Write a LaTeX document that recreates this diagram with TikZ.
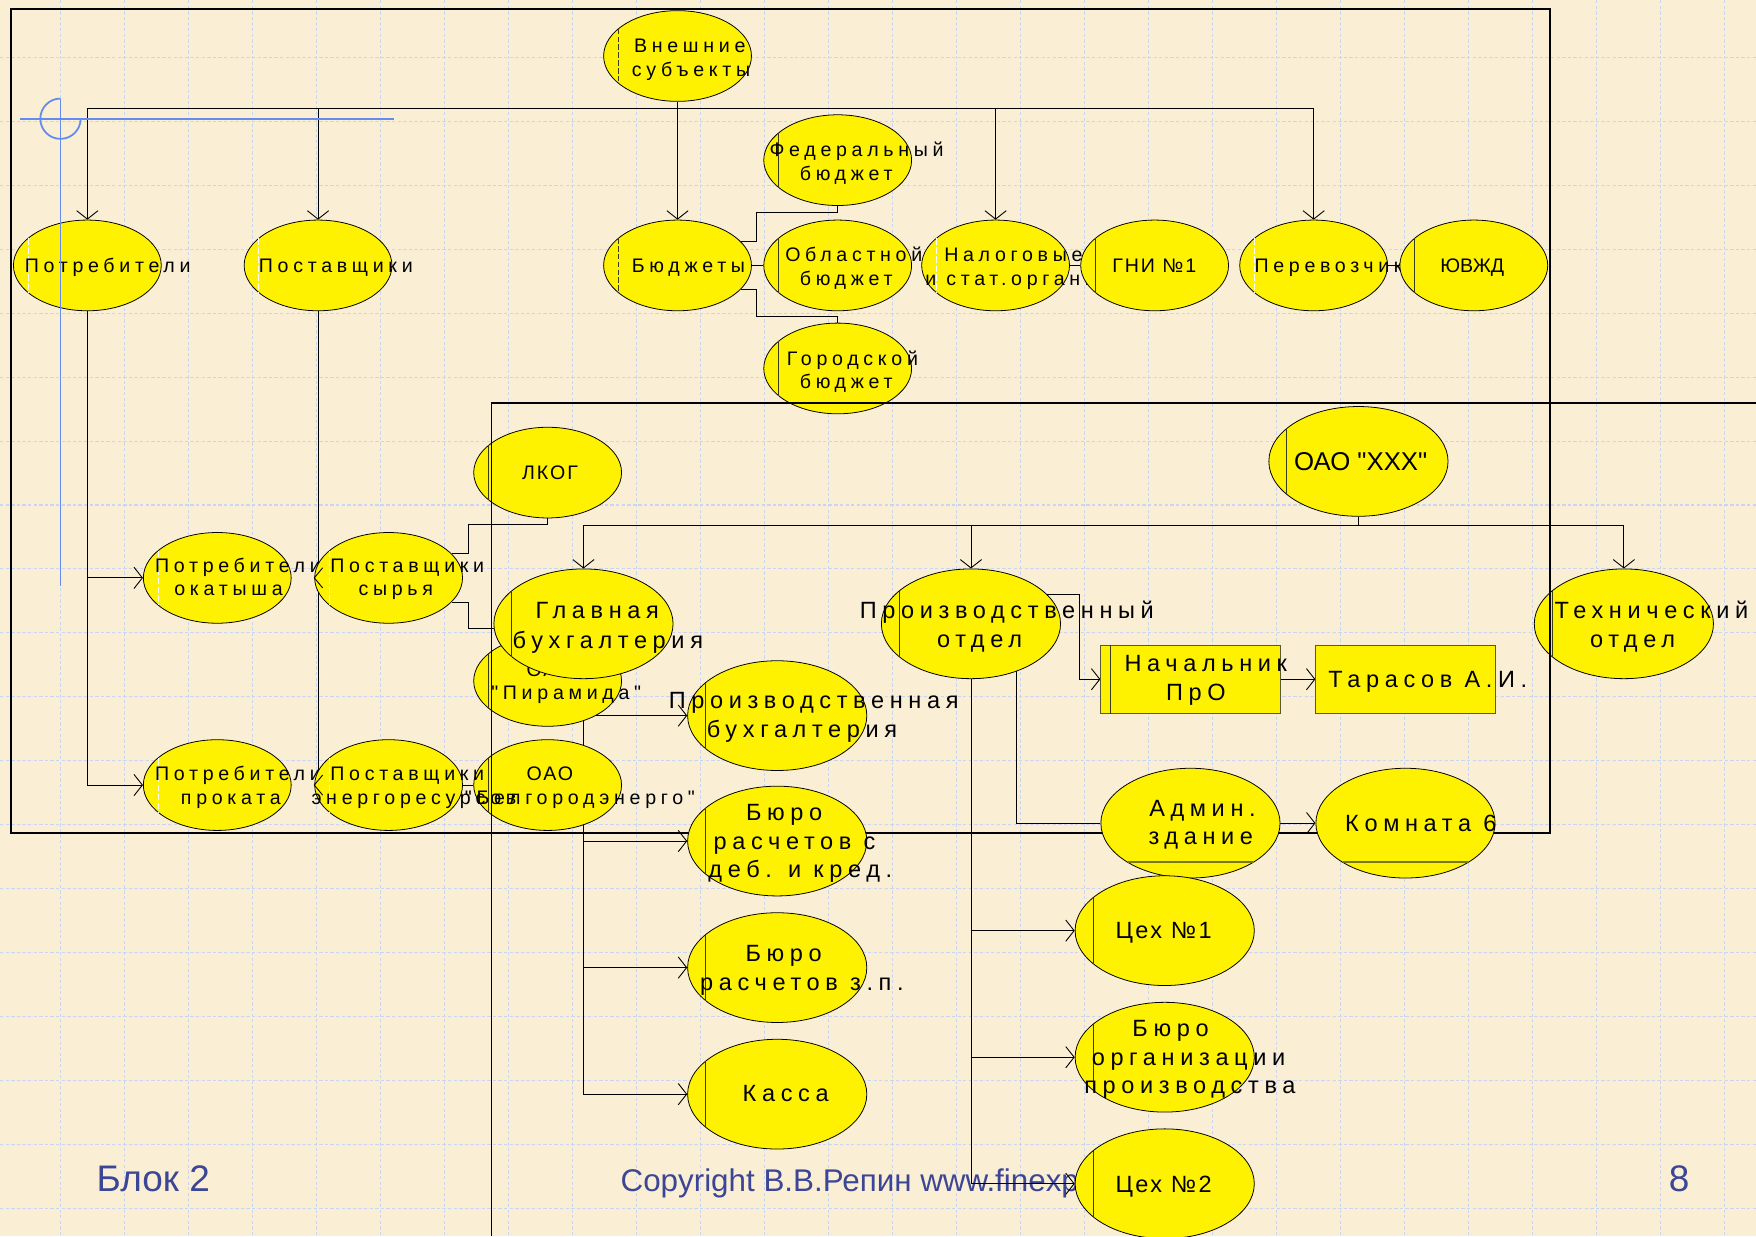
\documentclass[tikz,border=0pt]{standalone}
\usepackage{fontspec}
\setmainfont{Liberation Sans}
\newfontfamily\lsf[LetterSpace=24]{Liberation Sans}
\newfontfamily\lsfn[LetterSpace=10]{Liberation Sans}
\newfontfamily\plf{Liberation Sans}
\usetikzlibrary{shapes.geometric,arrows.meta,calc}
\pgfdeclarelayer{back}
\pgfdeclarelayer{links}
\pgfdeclarelayer{front}
\pgfsetlayers{back,links,main,front}
\definecolor{bgc}{RGB}{250,238,212}
\definecolor{gridc}{RGB}{200,214,242}
\definecolor{crossc}{RGB}{100,140,240}
\definecolor{footc}{RGB}{60,70,150}
\definecolor{chordc}{RGB}{60,60,20}
\definecolor{olive2}{RGB}{120,120,20}
\definecolor{boxc}{RGB}{90,90,50}
\newcommand\putt[5]{\node[#2] (#1) at (#3,#4) {#5};}
\newcommand\mychs[2]{\draw[#2] ($(#1.center)+(-52.8,-24.3)$) -- ($(#1.center)+(-52.8,24.3)$);}
\newcommand\mychl[2]{\draw[#2] ($(#1.center)+(-64,-29.4)$) -- ($(#1.center)+(-64,29.4)$);}
\begin{document}
\begin{tikzpicture}[x=1pt,y=-1pt,
  ell/.style={ellipse, draw=black, line width=0.7pt, fill=yellow, inner sep=0pt, minimum width=132pt, minimum height=81pt},
  bell/.style={ell, minimum width=160pt, minimum height=98pt},
  rbox/.style={rectangle, draw=boxc, line width=0.9pt, fill=yellow, inner sep=0pt, minimum width=160pt, minimum height=61pt},
  conn/.style={draw=black, line width=0.8pt},
  arr/.style={conn, -{Straight Barb[width=19pt,length=7.5pt]}},
  frame/.style={draw=black, line width=1.5pt},
  gridl/.style={draw=gridc, line width=0.9pt, dash pattern=on 3pt off 2pt},
  cross/.style={draw=crossc, line width=1.6pt},
  chd/.style={draw=chordc, line width=0.9pt},
  chdd/.style={chd, dash pattern=on 5pt off 2pt},
  chw/.style={draw=white, line width=0.9pt, dash pattern=on 6pt off 2pt},
  hline/.style={draw=olive2, line width=1.3pt},
  txs/.style={anchor=base west, inner sep=0pt, font=\lsf\fontsize{17.5}{21}\selectfont},
  txsn/.style={anchor=base west, inner sep=0pt, font=\lsfn\fontsize{17.5}{21}\selectfont},
  txsp/.style={anchor=base west, inner sep=0pt, font=\plf\fontsize{17.5}{21}\selectfont},
  txl/.style={anchor=base west, inner sep=0pt, font=\lsf\fontsize{21}{25}\selectfont},
  txln/.style={anchor=base west, inner sep=0pt, font=\lsfn\fontsize{21}{25}\selectfont},
  txlp/.style={anchor=base west, inner sep=0pt, font=\plf\fontsize{23}{26}\selectfont},
  foot/.style={anchor=base west, inner sep=0pt, text=footc}]

\useasboundingbox (0,0) rectangle (1568,1104);
\begin{pgfonlayer}{back}
\fill[bgc] (0,0) rectangle (1568,1104);
\foreach \i in {0,...,27} \draw[gridl] ({-3.1+57.14*\i},0) -- ({-3.1+57.14*\i},1104);
\foreach \j in {1,...,19} \draw[gridl] (0,{-6.2+57.14*\j}) -- (1568,{-6.2+57.14*\j});
\node[foot, font=\fontsize{33}{36}\selectfont] (blok) at (86,1064) {Блок 2};
\node[foot, font=\fontsize{28}{30}\selectfont] (copy) at (554,1064) {Copyright В.В.Репин www.finexpert.ru};
\node[foot, font=\fontsize{33}{36}\selectfont] (pnum) at (1490,1064) {8};
\draw[frame] (10,8) rectangle (1384,744);
\end{pgfonlayer}

% ---------- top row
\node[ell] (vs) at (605,50) {}; \mychs{vs}{chdd}
\putt{t-vs1}{txs}{566}{47}{Внешние}
\putt{t-vs2}{txs}{564}{68}{субъекты}

\node[ell] (potr) at (78,237) {}; \mychs{potr}{chw}
\putt{t-potr}{txs}{22}{243}{Потребители}

\node[ell] (post) at (284,237) {}; \mychs{post}{chw}
\putt{t-post}{txs}{231}{243}{Поставщики}

\node[ell] (budg) at (605,237) {}; \mychs{budg}{chdd}
\putt{t-budg}{txs}{564}{243}{Бюджеты}

\node[ell] (fed) at (748,143) {}; \mychs{fed}{chd}
\putt{t-fed1}{txs}{687}{140}{Федеральный}
\putt{t-fed2}{txs}{714}{161}{бюджет}

\node[ell] (obl) at (748,237) {}; \mychs{obl}{chd}
\putt{t-obl1}{txs}{701}{233.5}{Областной}
\putt{t-obl2}{txs}{714}{254.5}{бюджет}

\node[ell] (gor) at (748,329) {}; \mychs{gor}{chd}
\putt{t-gor1}{txs}{702.5}{326}{Городской}
\putt{t-gor2}{txs}{714}{347}{бюджет}

\node[ell] (nal) at (889,237) {}; \mychs{nal}{chw}
\putt{t-nal1}{txs}{843}{233.5}{Налоговые}
\putt{t-nal2}{txs}{826}{254.5}{и стат.органы}

\node[ell] (gni) at (1031,237) {}; \mychs{gni}{chd}
\putt{t-gni}{txsn}{993}{243}{ГНИ №1}

\node[ell] (per) at (1173,237) {}; \mychs{per}{chw}
\putt{t-per}{txs}{1120}{243}{Перевозчик}

\node[ell] (uvzd) at (1316,237) {}; \mychs{uvzd}{chd}
\putt{t-uvzd}{txsp}{1286}{243}{ЮВЖД}

% ---------- left block
\node[ell] (pok) at (194,516) {}; \mychs{pok}{chw}
\putt{t-pok1}{txs}{138.3}{511.3}{Потребители}
\putt{t-pok2}{txs}{155.5}{532}{окатыша}

\node[ell] (psr) at (347,516) {}; \mychs{psr}{chw}
\putt{t-psr1}{txs}{294.8}{511.3}{Поставщики}
\putt{t-psr2}{txs}{320}{532}{сырья}

\node[ell] (ppr) at (194,701) {}; \mychs{ppr}{chw}
\putt{t-ppr1}{txs}{138.3}{697}{Потребители}
\putt{t-ppr2}{txs}{161.4}{718}{проката}

\node[ell] (bel) at (489,701) {}; \mychs{bel}{chd}
\putt{t-bel1}{txsn}{470}{697}{ОАО}
\putt{t-bel2}{txs}{415}{718}{"Белгородэнерго"}

\node[ell] (pen) at (347,701) {}; \mychs{pen}{chw}
\putt{t-pen1}{txs}{294.8}{697}{Поставщики}
\putt{t-pen2}{txs}{278}{718}{энергоресурсов}

\node[ell] (lkog) at (489,422) {}; \mychs{lkog}{chd}
\putt{t-lkog}{txsn}{466}{428}{ЛКОГ}

\node[ell] (pir) at (489,608) {}; \mychs{pir}{chd}
\putt{t-pir1}{txsn}{470}{604}{ОАО}
\putt{t-pir2}{txs}{438.5}{625}{"Пирамида"}

% ---------- OAO XXX block
\node[bell] (gb) at (521,557) {}; \mychl{gb}{chd}
\putt{t-gb1}{txl}{478}{552}{Главная}
\putt{t-gb2}{txl}{457.6}{579}{бухгалтерия}

\node[bell] (pb) at (694,639) {}; \mychl{pb}{chd}
\putt{t-pb1}{txl}{597}{632.4}{Производственная}
\putt{t-pb2}{txl}{631}{658.3}{бухгалтерия}

\node[bell] (br1) at (694,751) {}; \mychl{br1}{chd}
\putt{t-br11}{txl}{666}{732.7}{Бюро}
\putt{t-br12}{txl}{637}{758.3}{расчетов с}
\putt{t-br13}{txl}{632.4}{783.3}{деб. и кред.}

\node[bell] (br2) at (694,864) {}; \mychl{br2}{chd}
\putt{t-br21}{txl}{665.6}{858.6}{Бюро}
\putt{t-br22}{txl}{625}{884}{расчетов з.п.}

\node[bell] (kas) at (694,977) {}; \mychl{kas}{chd}
\putt{t-kas}{txl}{663}{983.6}{Касса}

\node[bell] (po) at (867,557) {}; \mychl{po}{chd}
\putt{t-po1}{txl}{767.6}{552}{Производственный}
\putt{t-po2}{txl}{836.6}{578}{отдел}

\node[rbox] (nach) at (1063,606.5) {};
\draw[chd] ($(nach.north west)+(9,0)$) -- ($(nach.south west)+(9,0)$);
\putt{t-nach1}{txl}{1004}{599.7}{Начальник}
\putt{t-nach2}{txl}{1041}{625.6}{ПрО}

\node[rbox] (tar) at (1255,606.5) {};
\putt{t-tar}{txl}{1186}{613.7}{Тарасов А.И.}

\node[bell] (adm) at (1063,735) {};
\draw[hline] ($(adm.center)+(-56,34.5)$) -- ($(adm.center)+(56,34.5)$);
\putt{t-adm1}{txl}{1026}{729}{Админ.}
\putt{t-adm2}{txl}{1025.4}{754.5}{здание}

\node[bell] (kom) at (1255,735) {};
\draw[hline] ($(kom.center)+(-56,34.5)$) -- ($(kom.center)+(56,34.5)$);
\putt{t-kom}{txl}{1201}{742.6}{Комната 6}

\node[bell] (c1) at (1040,831) {}; \mychl{c1}{chd}
\putt{t-c1}{txln}{996}{837.8}{Цех №1}

\node[bell] (bor) at (1040,944) {}; \mychl{bor}{chd}
\putt{t-bor1}{txl}{1011}{925.6}{Бюро}
\putt{t-bor2}{txl}{974.7}{951}{организации}
\putt{t-bor3}{txl}{968}{976.8}{производства}

\node[bell] (c2) at (1040,1057) {}; \mychl{c2}{chd}
\putt{t-c2}{txln}{996}{1064.9}{Цех №2}

\node[bell] (oao) at (1213,412) {}; \mychl{oao}{chd}
\putt{t-oao}{txlp}{1155.4}{420.3}{ОАО "XXX"}

\node[bell] (to) at (1450,557) {}; \mychl{to}{chd}
\putt{t-to1}{txl}{1388}{552}{Технический}
\putt{t-to2}{txl}{1419.7}{578}{отдел}

% ---------- junction coordinates
\coordinate (busL) at (78,97);
\coordinate (busPost) at (284,97);
\coordinate (busNal) at (889,97);
\coordinate (busR) at (1173,97);
\coordinate (fedj) at (748,190);
\coordinate (gorj) at (748,283);
\coordinate (pk1) at (78,516);
\coordinate (pk2) at (78,701);
\coordinate (ps2) at (284,701);
\coordinate (lkj) at (489,468);
\coordinate (oaoj) at (1213,469);
\coordinate (gbj) at (521,469);
\coordinate (poj) at (867,469);
\coordinate (toj) at (1450,469);
\coordinate (g1) at (521,639);
\coordinate (g2) at (521,751);
\coordinate (g3) at (521,864);
\coordinate (g4) at (521,977);
\coordinate (p1) at (867,831);
\coordinate (p2) at (867,944);
\coordinate (p3) at (867,1057);

% ---------- connectors
\begin{pgfonlayer}{links}
\draw[arr] (vs.south) -- (budg.north);
\draw[conn] (busL) -- (busR);
\draw[arr] (busL) -- (potr.north);
\draw[arr] (busPost) -- (post.north);
\draw[arr] (busNal) -- (nal.north);
\draw[arr] (busR) -- (per.north);
\draw[conn] (budg.21) -- ++(14,0) |- (fedj) -- (fed.south);
\draw[conn] (budg.-21) -- ++(14,0) |- (gorj) -- (gor.north);
\draw[conn] (budg.east) -- (obl.west);
\draw[conn] (nal.east) -- (gni.west);
\draw[conn] (per.east) -- (uvzd.west);
\draw[conn] (potr.south) -- (pk2);
\draw[arr] (pk1) -- (pok.west);
\draw[arr] (pk2) -- (ppr.west);
\draw[conn] (post.south) -- (ps2);
\draw[conn] (psr.21) -- ++(15,0) |- (lkj) -- (lkog.south);
\draw[conn] (psr.-21) -- ++(15,0) |- (gb.183);
\draw[conn] (pen.east) -- (bel.west);
\draw[conn] (oao.south) -- (oaoj);
\draw[conn] (gbj) -- (toj);
\draw[arr] (gbj) -- (gb.north);
\draw[arr] (poj) -- (po.north);
\draw[arr] (toj) -- (to.north);
\draw[conn] (gb.south) -- (g4);
\draw[arr] (g1) -- (pb.west);
\draw[arr] (g2) -- (br1.west);
\draw[arr] (g3) -- (br2.west);
\draw[arr] (g4) -- (kas.west);
\draw[arr] (po.21) -- ++(29,0) |- (nach.west);
\draw[conn] (po.-46) |- (adm.west);
\draw[arr] (nach.east) -- (tar.west);
\draw[arr] (adm.east) -- (kom.west);
\draw[conn] (po.south) -- (p3);
\draw[arr] (p1) -- (c1.west);
\draw[arr] (p2) -- (bor.west);
\draw[arr] (p3) -- (c2.west);
\end{pgfonlayer}

% ---------- front
\begin{pgfonlayer}{front}
\draw[conn] ($(psr.west)+(7.5,-9)$) -- (psr.west) -- ($(psr.west)+(7.5,9)$);
\draw[conn] ($(pen.west)+(7.5,-9)$) -- (pen.west) -- ($(pen.west)+(7.5,9)$);
\draw[frame] (439,1104) -- (439,360) -- (1568,360);
\draw[frame] (1384,505) -- (1384,610);
\draw[cross] (18,106) -- (352,106);
\draw[cross] (54,88) -- (54,523);
\draw[cross] (54,88) arc[start angle=90, end angle=360, radius=18pt];
\end{pgfonlayer}
\end{tikzpicture}
\end{document}
